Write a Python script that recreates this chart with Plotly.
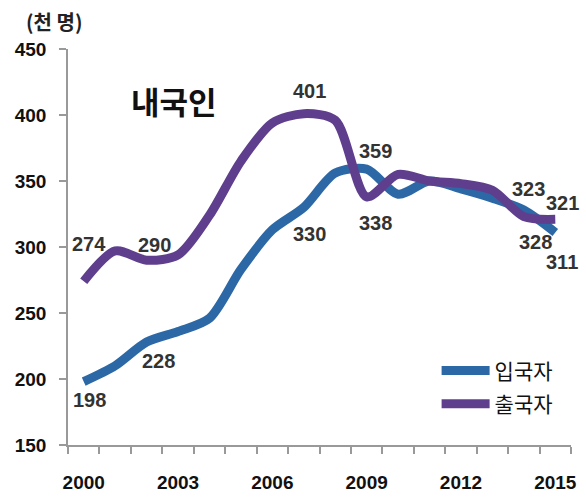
import plotly.graph_objects as go

years = list(range(2000, 2016))
entry = [198, 210, 228, 236, 246, 283, 313, 330, 356, 359, 340, 350, 344, 337, 328, 311]
exits = [274, 297, 290, 294, 324, 365, 394, 401, 396, 338, 355, 350, 348, 343, 323, 321]
series_names = ["입국자", "출국자"]
y_ticks = [150, 200, 250, 300, 350, 400, 450]
x_ticks = [2000, 2003, 2006, 2009, 2012, 2015]
chart_title = "내국인"
unit_label = "(천 명)"

# labelled years per series
entry_label_years = [2000, 2002, 2007, 2009, 2014, 2015]
exits_label_years = [2000, 2002, 2007, 2009, 2014, 2015]
# label pixel offsets (style only)
entry_label_shift = [(6, -18), (12, -19), (6, -27), (9, 18), (12, -32), (7, -30)]
exits_label_shift = [(5, 37), (8, 15), (6, 23), (9, -26), (5, 28), (7, 16)]

BLUE = "#2D68A6"
PURPLE = "#5F3F8D"
FONT = "Liberation Sans, Arial, sans-serif"
KFONT = "Noto Sans CJK KR"

W, H = 586, 502
L, R, T, B = 68, 9, 49, 43
pw, ph = W - L - R, H - T - B


def px_to_paper(px, py):
    return (px - L) / pw, (H - B - py) / ph


fig = go.Figure()
fig.add_trace(go.Scatter(x=years, y=entry, mode="lines", name=series_names[0], legendgroup="a",
                         line=dict(color=BLUE, width=9, shape="spline", smoothing=0.8)))
fig.add_trace(go.Scatter(x=years, y=exits, mode="lines", name=series_names[1], legendgroup="b",
                         line=dict(color=PURPLE, width=9, shape="spline", smoothing=0.8)))

annotations = []
for yrs, vals, shifts in [(entry_label_years, entry, entry_label_shift),
                          (exits_label_years, exits, exits_label_shift)]:
    for yr, (dx, dy) in zip(yrs, shifts):
        v = vals[years.index(yr)]
        annotations.append(dict(x=yr, y=v, xref="x", yref="y", text=str(v),
                                showarrow=False, xshift=dx, yshift=dy,
                                xanchor="center", yanchor="middle",
                                font=dict(family=FONT, size=20, color="#333333", weight="bold")))

tx, ty = px_to_paper(175, 102)
annotations.append(dict(x=tx, y=ty, xref="paper", yref="paper", text=chart_title,
                        showarrow=False, xanchor="center", yanchor="middle",
                        font=dict(family=KFONT, size=31, color="#111111", weight="bold")))
ux, uy = px_to_paper(54, 21)
annotations.append(dict(x=ux, y=uy, xref="paper", yref="paper", text=unit_label,
                        showarrow=False, xanchor="center", yanchor="middle",
                        font=dict(family=KFONT, size=20, color="#222222", weight="bold")))

lx, ly = px_to_paper(441, 361)
fig.update_layout(
    width=W, height=H,
    margin=dict(l=L, r=R, t=T, b=B),
    paper_bgcolor="white", plot_bgcolor="white",
    showlegend=True,
    legend=dict(x=lx, y=ly, xanchor="left", yanchor="top",
                font=dict(family=KFONT, size=21, color="#111111"),
                itemwidth=48, tracegroupgap=3, bgcolor="rgba(0,0,0,0)"),
    annotations=annotations,
)
fig.update_xaxes(range=[1999.5, 2015.5], tickvals=x_ticks, ticktext=[str(t) for t in x_ticks],
                 ticks="", showline=True, linecolor="#999999", linewidth=1.5,
                 showgrid=False, zeroline=False, ticklabelstandoff=19,
                 tickfont=dict(family=FONT, size=19, color="#111111", weight="bold"),
                 minor=dict(ticks="outside", tick0=1999.5, dtick=1, ticklen=7,
                            tickcolor="#999999", tickwidth=1.5, showgrid=False))
fig.update_yaxes(range=[150, 450], tickvals=y_ticks, ticks="outside", ticklen=7,
                 tickcolor="#999999", tickwidth=1.5, showline=True, linecolor="#999999",
                 linewidth=1.5, showgrid=False, zeroline=False, ticklabelstandoff=9,
                 tickfont=dict(family=FONT, size=19, color="#111111", weight="bold"))

fig.write_html("out.html", config={"displayModeBar": False},
               post_script="document.body.style.margin='0';")
